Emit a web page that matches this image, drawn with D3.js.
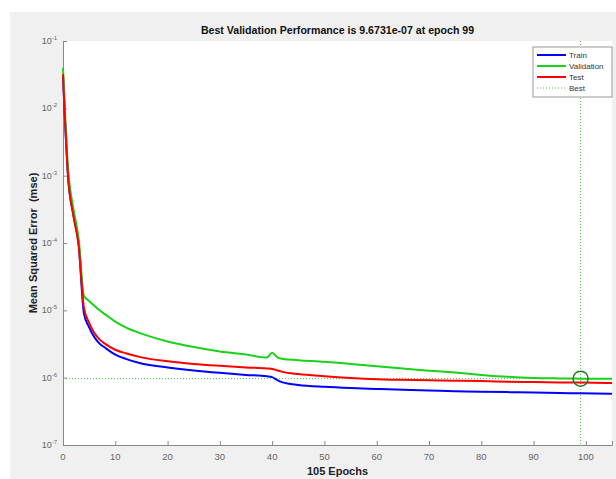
<!DOCTYPE html>
<html>
<head>
<meta charset="utf-8">
<script src="https://cdn.jsdelivr.net/npm/d3@7"></script>
<style>
  body { margin: 0; background: #fff; }
  text { font-family: "Liberation Sans", Arial, sans-serif; }
</style>
</head>
<body>
<div id="chart"></div>
<script>
const epochs = [0, 1, 2, 3, 4, 5, 6, 7, 8, 10, 12, 15, 20, 25, 30, 35, 39, 40, 41, 42, 45, 50, 55, 60, 65, 70, 75, 80, 85, 90, 95, 99, 105];

const trainPerf = [3.0e-2, 9e-4, 2.6e-4, 9.5e-5, 9e-6, 5.6e-6, 4.0e-6, 3.2e-6, 2.8e-6, 2.2e-6, 1.9e-6, 1.62e-6, 1.42e-6, 1.28e-6, 1.18e-6, 1.1e-6, 1.05e-6, 1.02e-6,
  9.2e-7, 8.5e-7, 7.8e-7, 7.3e-7, 7.0e-7, 6.8e-7, 6.6e-7, 6.45e-7, 6.3e-7, 6.2e-7, 6.1e-7, 6.0e-7, 5.9e-7, 5.85e-7, 5.75e-7];

const valPerf = [4.0e-2, 1.2e-3, 3.2e-4, 1.15e-4, 1.65e-5, 1.38e-5, 1.17e-5, 1.0e-5, 8.8e-6, 6.8e-6, 5.6e-6, 4.5e-6, 3.45e-6, 2.85e-6, 2.45e-6, 2.2e-6, 2.0e-6, 2.35e-6,
  2.0e-6, 1.9e-6, 1.82e-6, 1.72e-6, 1.6e-6, 1.48e-6, 1.37e-6, 1.27e-6, 1.19e-6, 1.1e-6, 1.03e-6, 9.9e-7, 9.75e-7, 9.6731e-7, 9.65e-7];

const testPerf = [3.2e-2, 9e-4, 2.5e-4, 9e-5, 1.1e-5, 6.5e-6, 4.6e-6, 3.7e-6, 3.2e-6, 2.6e-6, 2.3e-6, 2.0e-6, 1.75e-6, 1.6e-6, 1.5e-6, 1.42e-6, 1.37e-6, 1.35e-6,
  1.28e-6, 1.22e-6, 1.13e-6, 1.05e-6, 9.9e-7, 9.5e-7, 9.3e-7, 9.15e-7, 9.0e-7, 8.9e-7, 8.7e-7, 8.6e-7, 8.5e-7, 8.45e-7, 8.35e-7];

const bestEpoch = 99;
const bestPerf = 9.6731e-7;

const xTicks = [0, 10, 20, 30, 40, 50, 60, 70, 80, 90, 100];
const yExponents = [-1, -2, -3, -4, -5, -6, -7];

const seriesList = [
  { name: 'Train', values: trainPerf, color: '#0000ff' },
  { name: 'Validation', values: valPerf, color: '#19d219' },
  { name: 'Test', values: testPerf, color: '#ff0000' }
];

const width = 616, height = 479;
const plotL = 63, plotR = 612, plotT = 41, plotB = 445;

const svg = d3.select('#chart')
  .append('svg')
  .attr('width', width)
  .attr('height', height);

// grey figure background, white axes area
svg.append('rect').attr('x', 10).attr('y', 12).attr('width', width - 10).attr('height', height - 12).attr('fill', '#f0f0f0');
svg.append('rect').attr('x', plotL).attr('y', plotT).attr('width', plotR - plotL).attr('height', plotB - plotT).attr('fill', '#fff');

const x = d3.scaleLinear().domain([0, 105]).range([plotL, plotR]);
const y = d3.scaleLog().domain([1e-7, 1e-1]).range([plotB, plotT]);

// y axis: decade ticks with minor ticks, pointing inwards
const yAxis = svg.append('g')
  .attr('transform', `translate(${plotL},0)`)
  .call(d3.axisRight(y).ticks(6).tickSize(4).tickFormat(''));
yAxis.selectAll('.tick line').attr('stroke', '#888')
  .attr('x2', d => Math.abs(Math.log10(d) - Math.round(Math.log10(d))) < 1e-6 ? 4 : 2.5);
yAxis.select('.domain').attr('stroke', '#888');

yExponents.forEach(e => {
  const t = svg.append('text')
    .attr('x', plotL - 6)
    .attr('y', y(Math.pow(10, e)) + 3)
    .attr('text-anchor', 'end')
    .attr('fill', '#666')
    .attr('font-size', 9);
  t.append('tspan').text('10');
  t.append('tspan').attr('dy', -4).attr('font-size', 6).text(e);
});

// x axis
const xAxis = svg.append('g')
  .attr('transform', `translate(0,${plotB})`)
  .call(d3.axisTop(x).tickValues(xTicks).tickSize(4).tickFormat(''));
xAxis.selectAll('.tick line').attr('stroke', '#888');
xAxis.select('.domain').attr('stroke', '#888');

svg.selectAll('.xlab')
  .data(xTicks)
  .join('text')
  .attr('x', d => x(d))
  .attr('y', plotB + 15)
  .attr('text-anchor', 'middle')
  .attr('fill', '#666')
  .attr('font-size', 9.5)
  .text(d => d);

// best markers
svg.append('line')
  .attr('x1', plotL).attr('x2', plotR)
  .attr('y1', y(bestPerf)).attr('y2', y(bestPerf))
  .attr('stroke', '#4cbf4c').attr('stroke-width', 1).attr('stroke-dasharray', '1,2');
svg.append('line')
  .attr('x1', x(bestEpoch)).attr('x2', x(bestEpoch))
  .attr('y1', plotT).attr('y2', plotB)
  .attr('stroke', '#4cbf4c').attr('stroke-width', 1).attr('stroke-dasharray', '1,2');

const line = d3.line()
  .x((d, i) => x(epochs[i]))
  .y(d => y(d))
  .curve(d3.curveMonotoneX);

seriesList.forEach(s => {
  svg.append('path')
    .datum(s.values)
    .attr('d', line)
    .attr('fill', 'none')
    .attr('stroke', s.color)
    .attr('stroke-width', 2);
});

svg.append('circle')
  .attr('cx', x(bestEpoch))
  .attr('cy', y(bestPerf))
  .attr('r', 7.5)
  .attr('fill', 'none')
  .attr('stroke', '#1f7a1f')
  .attr('stroke-width', 1.5);

// titles
svg.append('text')
  .attr('x', (plotL + plotR) / 2)
  .attr('y', 34)
  .attr('text-anchor', 'middle')
  .attr('font-weight', 'bold')
  .attr('font-size', 10.6)
  .attr('fill', '#111')
  .text('Best Validation Performance is 9.6731e-07 at epoch 99');

svg.append('text')
  .attr('x', (plotL + plotR) / 2)
  .attr('y', 475)
  .attr('text-anchor', 'middle')
  .attr('font-weight', 'bold')
  .attr('font-size', 11)
  .attr('fill', '#222')
  .text('105 Epochs');

svg.append('text')
  .attr('transform', `translate(37,${(plotT + plotB) / 2}) rotate(-90)`)
  .attr('text-anchor', 'middle')
  .attr('font-weight', 'bold')
  .attr('font-size', 11)
  .attr('fill', '#222')
  .attr('xml:space', 'preserve')
  .text('Mean Squared Error  (mse)');

// legend
const legend = svg.append('g').attr('transform', 'translate(533,47)');
legend.append('rect').attr('width', 79).attr('height', 50).attr('fill', '#fff').attr('stroke', '#999');
const legendItems = seriesList.concat([{ name: 'Best', color: '#4cbf4c', dotted: true }]);
legendItems.forEach((d, i) => {
  const ly = 8 + i * 11;
  legend.append('line')
    .attr('x1', 4).attr('x2', 33)
    .attr('y1', ly).attr('y2', ly)
    .attr('stroke', d.color)
    .attr('stroke-width', d.dotted ? 1 : 2)
    .attr('stroke-dasharray', d.dotted ? '1,2' : null);
  legend.append('text')
    .attr('x', 36).attr('y', ly + 3)
    .attr('font-size', 8)
    .attr('fill', '#333')
    .text(d.name);
});
</script>
</body>
</html>
